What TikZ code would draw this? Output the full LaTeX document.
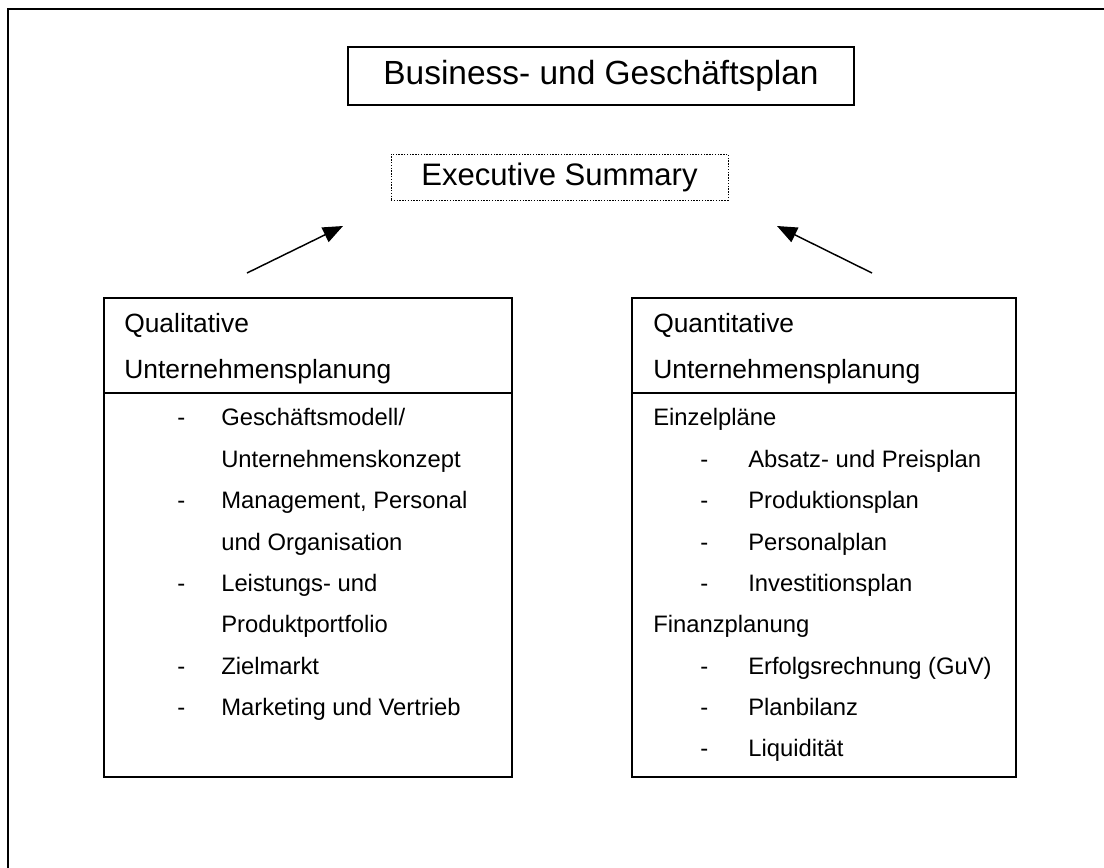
\documentclass[tikz,border=0pt]{standalone}
\usepackage{fontspec}
\setmainfont{Liberation Sans}
\usetikzlibrary{arrows.meta}

\begin{document}
\begin{tikzpicture}[x=0.75pt,y=-0.75pt,
  box/.style={draw, line width=1.1pt, rectangle, inner sep=0pt},
  title/.style={font=\fontsize{23.3}{28}\selectfont, inner sep=0pt},
  head/.style={anchor=base west, inner sep=0pt, font=\fontsize{19.8}{24}\selectfont},
  item/.style={anchor=base west, inner sep=0pt, font=\fontsize{17.85}{21}\selectfont},
  pfeil/.style={line width=1.1pt, -{Triangle[length=15pt, width=12pt]}}]
  \useasboundingbox (0,0) rectangle (1104,868);
  % Rahmen
  \draw[line width=2.2pt] (8,868) -- (8,9) -- (1104,9);

  % Nodes
  \node[box, minimum width=379.5pt, minimum height=43.5pt] (plan) at (601,76) {};
  \node[title, font=\fontsize{25.1}{30}\selectfont] (plantext) at (plan.center) {Business- und Geschäftsplan};
  \node[box, densely dotted, line width=0.7pt, minimum width=252.75pt, minimum height=34.5pt] (summary) at (559.5,177) {};
  \node[title] (summarytext) at (summary.center) {Executive Summary};

  \node[box, minimum width=306pt, minimum height=359.25pt] (qual) at (308,537.5) {};
  \node[box, minimum width=288pt, minimum height=359.25pt] (quant) at (824,537.5) {};
  \coordinate (qualsep) at (104,393);
  \coordinate (quantsep) at (632,393);
  \draw[line width=1.1pt] (qualsep) -- (qualsep -| qual.east);
  \draw[line width=1.1pt] (quantsep) -- (quantsep -| quant.east);

  % Pfeile
  \coordinate (la) at (247,273);
  \coordinate (lb) at (343,226);
  \coordinate (ra) at (872,273);
  \coordinate (rb) at (777,226);
  \draw[pfeil] (la) -- (lb);
  \draw[pfeil] (ra) -- (rb);

  % Qualitative Planung
  \node[head] (q1) at (124,332) {Qualitative};
  \node[head] (q2) at (124,378) {Unternehmensplanung};
  \node[item] (qd1) at (177,425) {-};
  \node[item] (qt1) at (221,425) {Geschäftsmodell/};
  \node[item] (qt2) at (221,467) {Unternehmenskonzept};
  \node[item] (qd3) at (177,508) {-};
  \node[item] (qt3) at (221,508) {Management, Personal};
  \node[item] (qt4) at (221,550) {und Organisation};
  \node[item] (qd5) at (177,591) {-};
  \node[item] (qt5) at (221,591) {Leistungs- und};
  \node[item] (qt6) at (221,632) {Produktportfolio};
  \node[item] (qd7) at (177,674) {-};
  \node[item] (qt7) at (221,674) {Zielmarkt};
  \node[item] (qd8) at (177,715) {-};
  \node[item] (qt8) at (221,715) {Marketing und Vertrieb};

  % Quantitative Planung
  \node[head] (n1) at (653,332) {Quantitative};
  \node[head] (n2) at (653,378) {Unternehmensplanung};
  \node[item] (e0) at (653,425) {Einzelpläne};
  \node[item] (ed1) at (700,467) {-};
  \node[item] (et1) at (748,467) {Absatz- und Preisplan};
  \node[item] (ed2) at (700,508) {-};
  \node[item] (et2) at (748,508) {Produktionsplan};
  \node[item] (ed3) at (700,550) {-};
  \node[item] (et3) at (748,550) {Personalplan};
  \node[item] (ed4) at (700,591) {-};
  \node[item] (et4) at (748,591) {Investitionsplan};
  \node[item] (f0) at (653,632) {Finanzplanung};
  \node[item] (fd1) at (700,674) {-};
  \node[item] (ft1) at (748,674) {Erfolgsrechnung (GuV)};
  \node[item] (fd2) at (700,715) {-};
  \node[item] (ft2) at (748,715) {Planbilanz};
  \node[item] (fd3) at (700,756) {-};
  \node[item] (ft3) at (748,756) {Liquidität};
\end{tikzpicture}
\end{document}
